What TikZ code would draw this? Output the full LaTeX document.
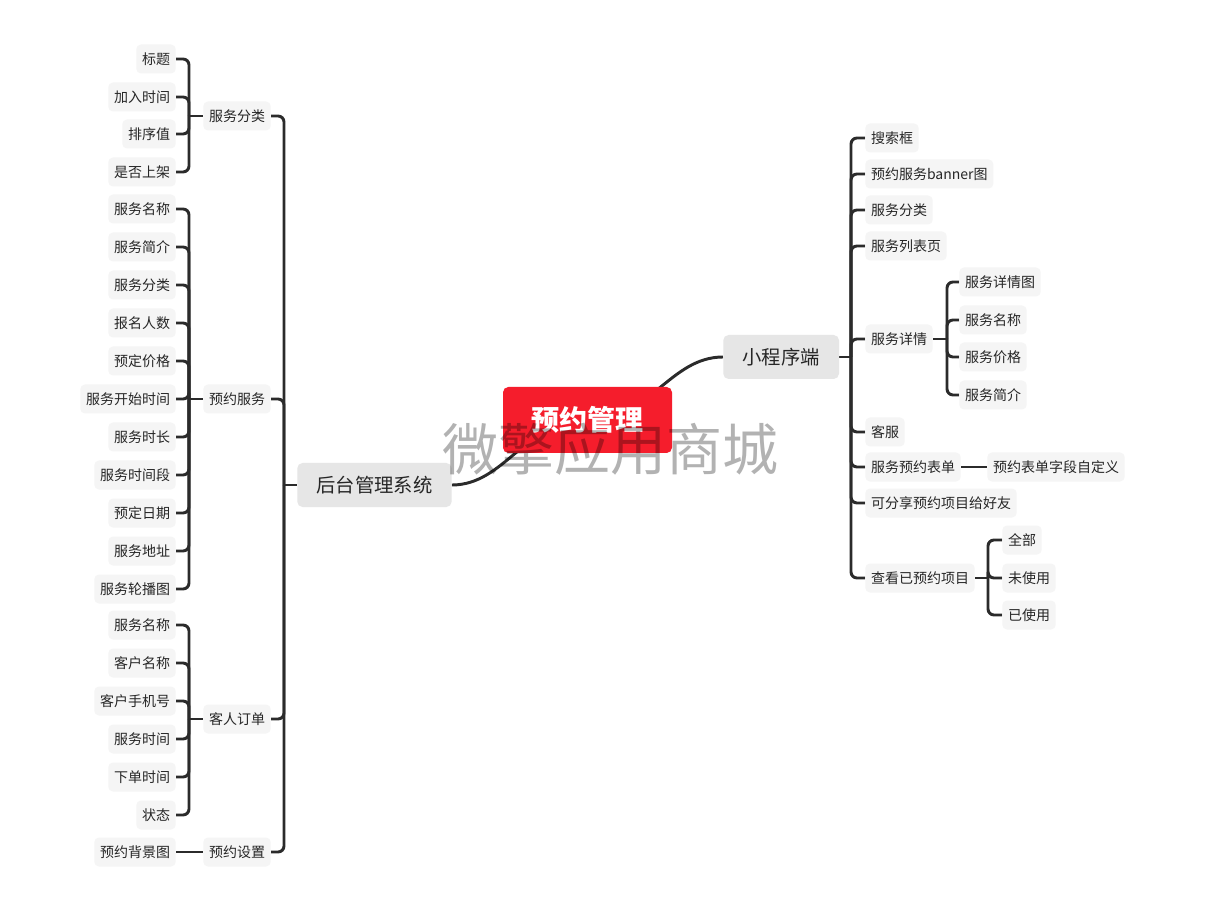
\documentclass[tikz,border=0pt]{standalone}
\usepackage{fontspec}
\setmainfont{Noto Sans CJK SC}
\usetikzlibrary{backgrounds}
\definecolor{linec}{HTML}{2B2B2B}
\definecolor{txtc}{HTML}{262626}
\definecolor{leaff}{HTML}{F5F5F5}
\definecolor{mainf}{HTML}{E6E6E6}
\definecolor{redf}{HTML}{F51D2C}
\tikzset{
  leaf/.style={fill=leaff, text=txtc, rounded corners=3.5pt, minimum height=21.75pt, inner xsep=4.3pt, inner ysep=0pt, font=\fontsize{10.5}{12}\selectfont},
  mainnode/.style={fill=mainf, text=txtc, rounded corners=4pt, minimum height=33pt, inner xsep=14.4pt, inner ysep=0pt, font=\fontsize{14.5}{16}\selectfont},
  rootnode/.style={fill=redf, text=white, rounded corners=4pt, minimum width=126.75pt, minimum height=49.5pt, inner sep=0pt, font=\fontsize{21}{24}\selectfont\bfseries},
  conn/.style={draw=linec, line width=2.2pt, rounded corners=4.5pt},
  straight/.style={draw=linec, line width=2.2pt},
}
\begin{document}
\begin{tikzpicture}[x=0.75pt,y=-0.75pt]
\useasboundingbox (0,0) rectangle (1221,898);
% root and main branches
\node[rootnode] (root) at (587.5,420) {预约管理};
\node[mainnode, anchor=west] (hou) at (297,485) {后台管理系统};
\node[mainnode, anchor=west] (xcx) at (723,357) {小程序端};
% left mid nodes
\node[leaf, anchor=west] (fl) at (203,116) {服务分类};
\node[leaf, anchor=west] (yy) at (203,399) {预约服务};
\node[leaf, anchor=west] (dd) at (203,719) {客人订单};
\node[leaf, anchor=west] (sz) at (203,852) {预约设置};
% left leaves
\node[leaf, anchor=east] (fl1) at (176,59) {标题};
\node[leaf, anchor=east] (fl2) at (176,97) {加入时间};
\node[leaf, anchor=east] (fl3) at (176,134) {排序值};
\node[leaf, anchor=east] (fl4) at (176,172) {是否上架};
\node[leaf, anchor=east] (yy1) at (176,209) {服务名称};
\node[leaf, anchor=east] (yy2) at (176,247) {服务简介};
\node[leaf, anchor=east] (yy3) at (176,285) {服务分类};
\node[leaf, anchor=east] (yy4) at (176,323) {报名人数};
\node[leaf, anchor=east] (yy5) at (176,361) {预定价格};
\node[leaf, anchor=east] (yy6) at (176,399) {服务开始时间};
\node[leaf, anchor=east] (yy7) at (176,437) {服务时长};
\node[leaf, anchor=east] (yy8) at (176,475) {服务时间段};
\node[leaf, anchor=east] (yy9) at (176,513) {预定日期};
\node[leaf, anchor=east] (yy10) at (176,551) {服务地址};
\node[leaf, anchor=east] (yy11) at (176,589) {服务轮播图};
\node[leaf, anchor=east] (dd1) at (176,625) {服务名称};
\node[leaf, anchor=east] (dd2) at (176,663) {客户名称};
\node[leaf, anchor=east] (dd3) at (176,701) {客户手机号};
\node[leaf, anchor=east] (dd4) at (176,739) {服务时间};
\node[leaf, anchor=east] (dd5) at (176,777) {下单时间};
\node[leaf, anchor=east] (dd6) at (176,815) {状态};
\node[leaf, anchor=east] (sz1) at (176,852) {预约背景图};
% right nodes
\node[leaf, anchor=west] (r1) at (865,138) {搜索框};
\node[leaf, anchor=west] (r2) at (865,174) {预约服务banner图};
\node[leaf, anchor=west] (r3) at (865,210) {服务分类};
\node[leaf, anchor=west] (r4) at (865,246) {服务列表页};
\node[leaf, anchor=west] (r5) at (865,339) {服务详情};
\node[leaf, anchor=west] (r6) at (865,432) {客服};
\node[leaf, anchor=west] (r7) at (865,467) {服务预约表单};
\node[leaf, anchor=west] (r8) at (865,503) {可分享预约项目给好友};
\node[leaf, anchor=west] (r9) at (865,578) {查看已预约项目};
\node[leaf, anchor=west] (r51) at (959,282) {服务详情图};
\node[leaf, anchor=west] (r52) at (959,320) {服务名称};
\node[leaf, anchor=west] (r53) at (959,357) {服务价格};
\node[leaf, anchor=west] (r54) at (959,395) {服务简介};
\node[leaf, anchor=west] (r71) at (987,467) {预约表单字段自定义};
\node[leaf, anchor=west] (r91) at (1002,540) {全部};
\node[leaf, anchor=west] (r92) at (1002,578) {未使用};
\node[leaf, anchor=west] (r93) at (1002,615) {已使用};
% junctions
\coordinate (jfl) at (189,116);
\coordinate (jyy) at (189,399);
\coordinate (jdd) at (189,719);
\coordinate (jl) at (284,485);
\coordinate (jr) at (851,357);
\coordinate (jr5) at (947,339);
\coordinate (jr9) at (988,578);
\coordinate (cL1) at (525,420);
\coordinate (cL2) at (505,485);
\coordinate (cR1) at (650,420);
\coordinate (cR2) at (670,357);
% connectors behind the nodes
\begin{scope}[on background layer]
\fill[white] (0,0) rectangle (1221,898);
\draw[straight] (root.center) .. controls (cL1) and (cL2) .. (hou.east);
\draw[straight] (root.center) .. controls (cR1) and (cR2) .. (xcx.west);
\draw[straight] (hou.west) -- (jl);
\foreach \c in {fl,yy,dd,sz} \draw[conn] (jl) |- (\c.east);
\draw[straight] (fl.west) -- (jfl);
\foreach \c in {fl1,fl2,fl3,fl4} \draw[conn] (jfl) |- (\c.east);
\draw[straight] (yy.west) -- (jyy);
\foreach \c in {yy1,yy2,yy3,yy4,yy5,yy6,yy7,yy8,yy9,yy10,yy11} \draw[conn] (jyy) |- (\c.east);
\draw[straight] (dd.west) -- (jdd);
\foreach \c in {dd1,dd2,dd3,dd4,dd5,dd6} \draw[conn] (jdd) |- (\c.east);
\draw[straight] (sz.west) -- (sz1.east);
\draw[straight] (xcx.east) -- (jr);
\foreach \c in {r1,r2,r3,r4,r5,r6,r7,r8,r9} \draw[conn] (jr) |- (\c.west);
\draw[straight] (r5.east) -- (jr5);
\foreach \c in {r51,r52,r53,r54} \draw[conn] (jr5) |- (\c.west);
\draw[straight] (r7.east) -- (r71.west);
\draw[straight] (r9.east) -- (jr9);
\foreach \c in {r91,r92,r93} \draw[conn] (jr9) |- (\c.west);
\end{scope}
% watermark
\node[text=black, text opacity=0.3, font=\fontsize{42}{44}\selectfont] (wm) at (610,449) {微擎应用商城};
\end{tikzpicture}
\end{document}
